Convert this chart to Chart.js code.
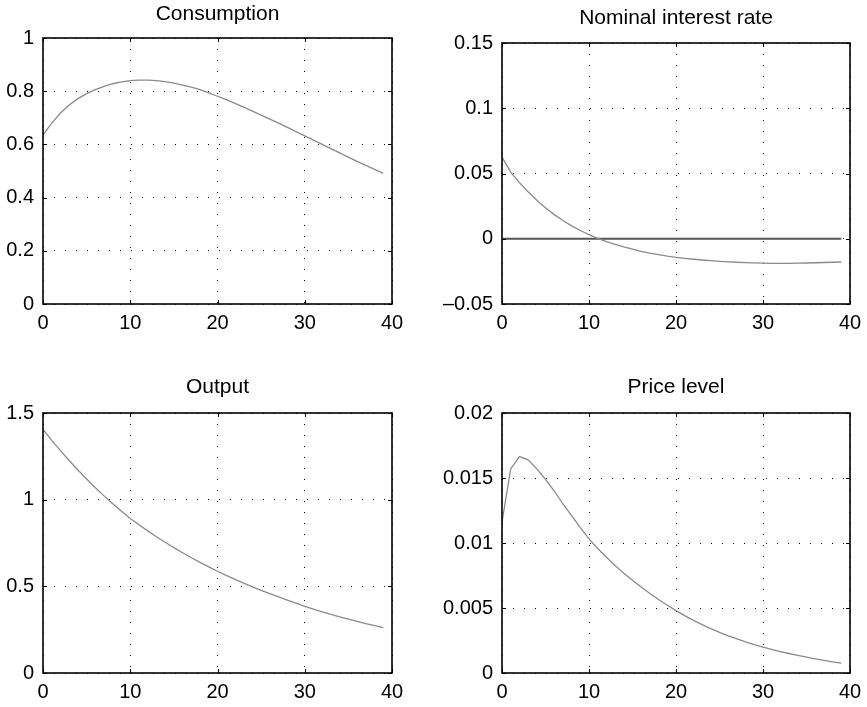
<!DOCTYPE html>
<html>
<head>
<meta charset="utf-8">
<script src="https://cdn.jsdelivr.net/npm/chart.js@4.4.1/dist/chart.umd.min.js"></script>
<style>
  html, body { margin: 0; padding: 0; background: #fff; }
  #wrap { position: relative; width: 867px; height: 707px; }
  .panel { position: absolute; }
</style>
</head>
<body>
<div id="wrap">
  <div class="panel" style="left:0;top:0"><canvas id="c1" width="430" height="350"></canvas></div>
  <div class="panel" style="left:430px;top:0"><canvas id="c2" width="437" height="350"></canvas></div>
  <div class="panel" style="left:0;top:350px"><canvas id="c3" width="430" height="357"></canvas></div>
  <div class="panel" style="left:430px;top:350px"><canvas id="c4" width="437" height="357"></canvas></div>
</div>
<script>
// quarters after the shock
const periods = [0,1,2,3,4,5,6,7,8,9,10,11,12,13,14,15,16,17,18,19,
                 20,21,22,23,24,25,26,27,28,29,30,31,32,33,34,35,36,37,38,39];

const consumption = [0.635,0.680,0.718,0.748,0.772,0.791,0.806,0.818,0.828,0.835,
                     0.840,0.842,0.842,0.840,0.836,0.830,0.823,0.815,0.806,0.794,
                     0.781,0.768,0.754,0.740,0.725,0.710,0.695,0.680,0.664,0.648,
                     0.632,0.616,0.600,0.584,0.568,0.552,0.536,0.521,0.506,0.491];

const interestRate = [0.0625,0.0510,0.0430,0.0360,0.0295,0.0237,0.0185,0.0140,0.0099,0.0063,
                      0.0031,0.0003,-0.0022,-0.0044,-0.0063,-0.0080,-0.0096,-0.0110,-0.0122,-0.0133,
                      -0.0142,-0.0150,-0.0157,-0.0163,-0.0168,-0.0173,-0.0177,-0.0180,-0.0183,-0.0185,
                      -0.0187,-0.0188,-0.0188,-0.0188,-0.0187,-0.0186,-0.0184,-0.0182,-0.0180,-0.0178];

const output = [1.405,1.342,1.283,1.226,1.171,1.119,1.069,1.022,0.976,0.933,
                0.891,0.855,0.820,0.786,0.754,0.723,0.694,0.665,0.638,0.612,
                0.587,0.563,0.540,0.518,0.497,0.477,0.458,0.439,0.421,0.403,
                0.385,0.369,0.353,0.338,0.324,0.311,0.298,0.285,0.273,0.262];

const priceLevel = [0.0116,0.0157,0.01665,0.0164,0.0157,0.0149,0.0140,0.0130,0.0121,0.01118,
                    0.01032,0.00958,0.00890,0.00827,0.00768,0.00714,0.00662,0.00612,0.00565,0.00521,
                    0.00480,0.00441,0.00405,0.00372,0.00341,0.00312,0.00286,0.00262,0.00239,0.00218,
                    0.00199,0.00181,0.00165,0.00150,0.00136,0.00122,0.00109,0.00097,0.00086,0.00076];

// zero reference line in the interest rate panel
const zeroLineX = [0, 39];
const zeroLineY = [0, 0];

const xTicks = [0, 10, 20, 30, 40];
const xTickLabels = ['0', '10', '20', '30', '40'];
const consumptionTicks = [0, 0.2, 0.4, 0.6, 0.8, 1];
const consumptionTickLabels = ['0', '0.2', '0.4', '0.6', '0.8', '1'];
const rateTicks = [-0.05, 0, 0.05, 0.1, 0.15];
const rateTickLabels = ['\u20130.05', '0', '0.05', '0.1', '0.15'];
const outputTicks = [0, 0.5, 1, 1.5];
const outputTickLabels = ['0', '0.5', '1', '1.5'];
const priceTicks = [0, 0.005, 0.01, 0.015, 0.02];
const priceTickLabels = ['0', '0.005', '0.01', '0.015', '0.02'];

Chart.defaults.font.family = "'Liberation Sans', Arial, Helvetica, sans-serif";
Chart.defaults.font.size = 20;
Chart.defaults.color = '#000';

const FONT = 20;
const X_AXIS_H = 30;

// box frame + inward ticks, matlab style
const boxPlugin = {
  id: 'box',
  afterDatasetsDraw(chart) {
    const { ctx, chartArea: a, scales: { x, y } } = chart;
    ctx.save();
    ctx.strokeStyle = '#000';
    ctx.lineWidth = 1;
    ctx.beginPath();
    x.ticks.forEach(t => {
      const px = Math.round(x.getPixelForValue(t.value)) + 0.5;
      ctx.moveTo(px, a.bottom); ctx.lineTo(px, a.bottom - 4);
      ctx.moveTo(px, a.top); ctx.lineTo(px, a.top + 4);
    });
    y.ticks.forEach(t => {
      const py = Math.round(y.getPixelForValue(t.value)) + 0.5;
      ctx.moveTo(a.left, py); ctx.lineTo(a.left + 4, py);
      ctx.moveTo(a.right, py); ctx.lineTo(a.right - 4, py);
    });
    ctx.stroke();
    ctx.lineWidth = 1.6;
    ctx.strokeRect(a.left, a.top, a.right - a.left, a.bottom - a.top);
    ctx.restore();
  }
};

function toPoints(xs, ys) {
  return xs.map((v, i) => ({ x: v, y: ys[i] }));
}

function makePanel(id, title, datasets, yTicks, yLabels, f) {
  const canvas = document.getElementById(id);
  const w = canvas.width, h = canvas.height;
  return new Chart(canvas, {
    type: 'line',
    data: { datasets: datasets },
    plugins: [boxPlugin],
    options: {
      responsive: false,
      animation: false,
      layout: { padding: { left: 0, top: 0, right: w - f.right, bottom: h - f.bottom - X_AXIS_H } },
      plugins: {
        legend: { display: false },
        tooltip: { enabled: false },
        title: {
          display: true,
          fullSize: false,
          text: title,
          color: '#000',
          font: { size: FONT + 1, weight: 'normal', lineHeight: 1 },
          padding: { top: f.titleY - (FONT + 1) / 2, bottom: f.top - f.titleY - (FONT + 1) / 2 }
        }
      },
      scales: {
        x: {
          type: 'linear',
          min: 0, max: 40,
          afterBuildTicks: s => { s.ticks = xTicks.map(v => ({ value: v })); },
          afterFit: s => { s.height = X_AXIS_H; s.paddingLeft = 0; s.paddingRight = 0; },
          ticks: { padding: 7, maxRotation: 0, callback: (v, i) => xTickLabels[i] },
          grid: { color: '#000', lineWidth: 1, drawTicks: false },
          border: { display: false, dash: [1, 10] }
        },
        y: {
          type: 'linear',
          min: yTicks[0], max: yTicks[yTicks.length - 1],
          afterBuildTicks: s => { s.ticks = yTicks.map(v => ({ value: v })); },
          afterFit: s => { s.width = f.left; s.paddingTop = 0; s.paddingBottom = 0; },
          ticks: { padding: 9, callback: (v, i) => yLabels[i] },
          grid: { color: '#000', lineWidth: 1, drawTicks: false },
          border: { display: false, dash: [1, 10] }
        }
      }
    }
  });
}

function curve(values) {
  return {
    data: toPoints(periods, values),
    borderColor: '#8a8a8a',
    borderWidth: 1.3,
    pointRadius: 0,
    tension: 0,
    fill: false
  };
}

makePanel('c1', 'Consumption', [curve(consumption)],
  consumptionTicks, consumptionTickLabels,
  { left: 43, right: 392, top: 38, bottom: 304, titleY: 14 });

makePanel('c2', 'Nominal interest rate', [
    curve(interestRate),
    { data: toPoints(zeroLineX, zeroLineY), borderColor: '#555', borderWidth: 2, pointRadius: 0, fill: false }
  ],
  rateTicks, rateTickLabels,
  { left: 72, right: 420, top: 43, bottom: 304, titleY: 18.5 });

makePanel('c3', 'Output', [curve(output)],
  outputTicks, outputTickLabels,
  { left: 43, right: 392, top: 63, bottom: 323, titleY: 37 });

makePanel('c4', 'Price level', [curve(priceLevel)],
  priceTicks, priceTickLabels,
  { left: 72, right: 420, top: 63, bottom: 323, titleY: 37 });
</script>
</body>
</html>
